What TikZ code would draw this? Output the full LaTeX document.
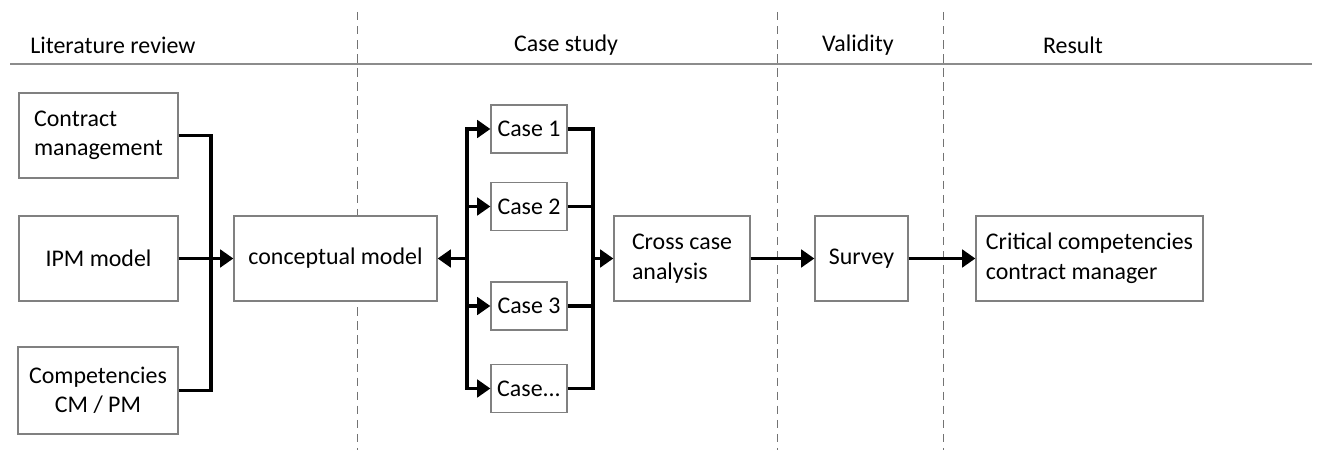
\documentclass[tikz,border=0pt]{standalone}
\usepackage{fontspec}
\setmainfont{Carlito}
\usetikzlibrary{arrows.meta,positioning,calc}

\begin{document}
\begin{tikzpicture}[x=0.025cm,y=-0.025cm,
    >={Triangle[length=3.3mm,width=4.4mm]},
    box/.style={draw=black!50,line width=0.9pt,fill=white,inner sep=2pt,
        font=\fontsize{17}{21}\selectfont,align=left},
    casebox/.style={box,minimum width=1.9cm,minimum height=1.2cm},
    link/.style={line width=2.2pt,black},
    phase/.style={font=\fontsize{17}{20}\selectfont,inner sep=0pt},
    divider/.style={draw=black!55,line width=0.6pt,dash pattern=on 6pt off 4pt}]
\useasboundingbox (0,0) rectangle (1317,452);
% phases
\node[phase,anchor=west] (lit) at (30,45) {Literature review};
\node[phase] (cs) at (566,45) {Case study};
\node[phase] (val) at (858,45) {Validity};
\node[phase] (res) at (1073,45) {Result};
\draw[black!45,line width=1.6pt] (10,64) -- (1312,64);
\foreach \xd in {357,777,943}
    \draw[divider] (\xd,12) -- (\xd,450);
% boxes
\node[box,minimum width=3.975cm,minimum height=2.125cm] (contract) at (98.5,135.5) {Contract\\management};
\node[box,minimum width=3.975cm,minimum height=2.125cm] (ipm) at (98.5,258.5) {IPM model};
\node[box,minimum width=4cm,minimum height=2.175cm,align=center] (compet) at (98,390.5) {Competencies\\CM / PM};
\node[box,minimum width=5.075cm,minimum height=2.125cm] (concept) at (335.5,258.5) {conceptual model};
\node[casebox] (case1) at (529,129) {Case 1};
\node[casebox] (case2) at (529,206.5) {Case 2};
\node[casebox] (case3) at (529,306) {Case 3};
\node[casebox] (case4) at (529,388.5) {Case...};
\node[box,minimum width=3.4cm,minimum height=2.125cm] (cross) at (682,258.5) {Cross case\\analysis};
\node[box,minimum width=2.325cm,minimum height=2.125cm] (survey) at (861.5,258.5) {Survey};
\node[box,minimum width=5.675cm,minimum height=2.125cm] (crit) at (1089.5,258.5) {Critical competencies\\contract manager};
% connectors
\coordinate (lbus) at (211,258.5);
\coordinate (cbus) at (467,258.5);
\coordinate (rbus) at (593,258.5);
\draw[link] (contract.east) -| (lbus) |- (compet.east);
\draw[link,->] (ipm) -- (concept);
\draw[link,->] (cbus) -- (concept);
\foreach \c in {case1,case2,case3,case4}{
    \draw[link,->] (cbus) |- (\c.west);
    \draw[link] (\c.east) -| (rbus);
}
\draw[link,->] (rbus) -- (cross);
\draw[link,->] (cross) -- (survey);
\draw[link,->] (survey) -- (crit);
\end{tikzpicture}
\end{document}
